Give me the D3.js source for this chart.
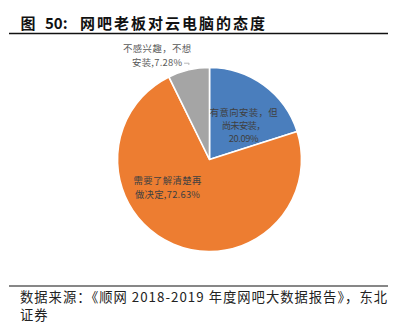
<!DOCTYPE html>
<html>
<head>
<meta charset="utf-8">
<script src="https://cdn.jsdelivr.net/npm/d3@7"></script>
<style>
  html, body { margin: 0; padding: 0; background: #fff; }
  svg { display: block; }
</style>
</head>
<body>
<svg id="chart" width="412" height="329"></svg>
<script>
// Survey answers: internet-cafe owners' attitude toward cloud PCs
const categories = ["有意向安装，但尚未安装", "需要了解清楚再做决定", "不感兴趣，不想安装"];
const values = [20.09, 72.63, 7.28];
const labelLines = [
  ["有意向安装，但", "尚未安装，", "20.09%"],
  ["需要了解清楚再", "做决定,72.63%"],
  ["不感兴趣，不想", "安装,7.28%"]
];
const colors = ["#4a7ebd", "#ed7d31", "#a5a5a5"];

// label placement relative to each slice centroid
const labelShift = [[7, 3], [-24, -14], [-42, -59]];
const lineGap = [13, 14, 14];
const lineWidth = [[68, 44, 30], [68, 65], [68, 50]];

const svg = d3.select("#chart");
const cx = 209.5, cy = 159.5, radius = 92;

// title and rules
svg.append("text")
  .attr("y", 29)
  .attr("font-family", "'Noto Sans CJK SC'")
  .attr("font-weight", 700).attr("font-size", 15)
  .attr("fill", "#111")
  .call(t => {
    t.append("tspan").attr("x", 20.5).text("图");
    t.append("tspan").attr("x", 45).text("50:");
  });
svg.append("text")
  .attr("x", 80).attr("y", 29)
  .attr("font-family", "'Noto Sans CJK SC'")
  .attr("font-weight", 700).attr("font-size", 15)
  .attr("fill", "#111")
  .attr("textLength", 185).attr("lengthAdjust", "spacing")
  .text("网吧老板对云电脑的态度");
svg.append("line").attr("x1", 9).attr("x2", 388).attr("y1", 33.5).attr("y2", 33.5)
  .attr("stroke", "#111").attr("stroke-width", 1.5);
svg.append("line").attr("x1", 9).attr("x2", 388).attr("y1", 286).attr("y2", 286)
  .attr("stroke", "#111").attr("stroke-width", 1.2);

svg.append("text")
  .attr("x", 20).attr("y", 302)
  .attr("font-family", "'Noto Sans CJK SC'")
  .attr("font-size", 13.3).attr("fill", "#222")
  .attr("textLength", 367).attr("lengthAdjust", "spacing")
  .text("数据来源：《顺网 2018-2019 年度网吧大数据报告》，东北");
svg.append("text")
  .attr("x", 20).attr("y", 320)
  .attr("font-family", "'Noto Sans CJK SC'")
  .attr("font-size", 13.3).attr("fill", "#222")
  .attr("letter-spacing", 1)
  .text("证券");

// pie
const pie = d3.pie().sort(null).value(d => d);
const arcs = pie(values);
const arc = d3.arc().innerRadius(0).outerRadius(radius);

const g = svg.append("g").attr("transform", `translate(${cx},${cy})`);
g.selectAll("path.slice")
  .data(arcs)
  .join("path")
  .attr("class", "slice")
  .attr("d", arc)
  .attr("fill", (d, i) => colors[i])
  .attr("stroke", "#fff")
  .attr("stroke-width", 1.6)
  .attr("stroke-linejoin", "round");

// data labels
arcs.forEach((d, i) => {
  const [x0, y0] = arc.centroid(d);
  const ax = x0 + labelShift[i][0];
  const ay = y0 + labelShift[i][1];
  const lines = labelLines[i];
  const n = lines.length;
  lines.forEach((s, k) => {
    const w = lineWidth[i][k];
    g.append("text")
      .attr("x", ax - w / 2)
      .attr("y", ay + (k - (n - 1) / 2) * lineGap[i] + 3.5)
      .attr("font-family", "'Noto Sans CJK SC'")
      .attr("font-size", 9.4)
      .attr("fill", i === 2 ? "#595959" : "#404040")
      .attr("textLength", w).attr("lengthAdjust", "spacing")
      .text(s);
  });
  if (i === 2) {
    // short leader from the outside label to the slice
    const edge = d3.arc().innerRadius(radius + 4).outerRadius(radius + 4).centroid(d);
    g.append("path")
      .attr("d", d3.line()([[ax + 27, ay + 7.5], [ax + 32, ay + 7.5], [edge[0] + 1, edge[1] - 1]]))
      .attr("fill", "none")
      .attr("stroke", "#a6a6a6")
      .attr("stroke-width", 0.8);
  }
});
</script>
</body>
</html>
